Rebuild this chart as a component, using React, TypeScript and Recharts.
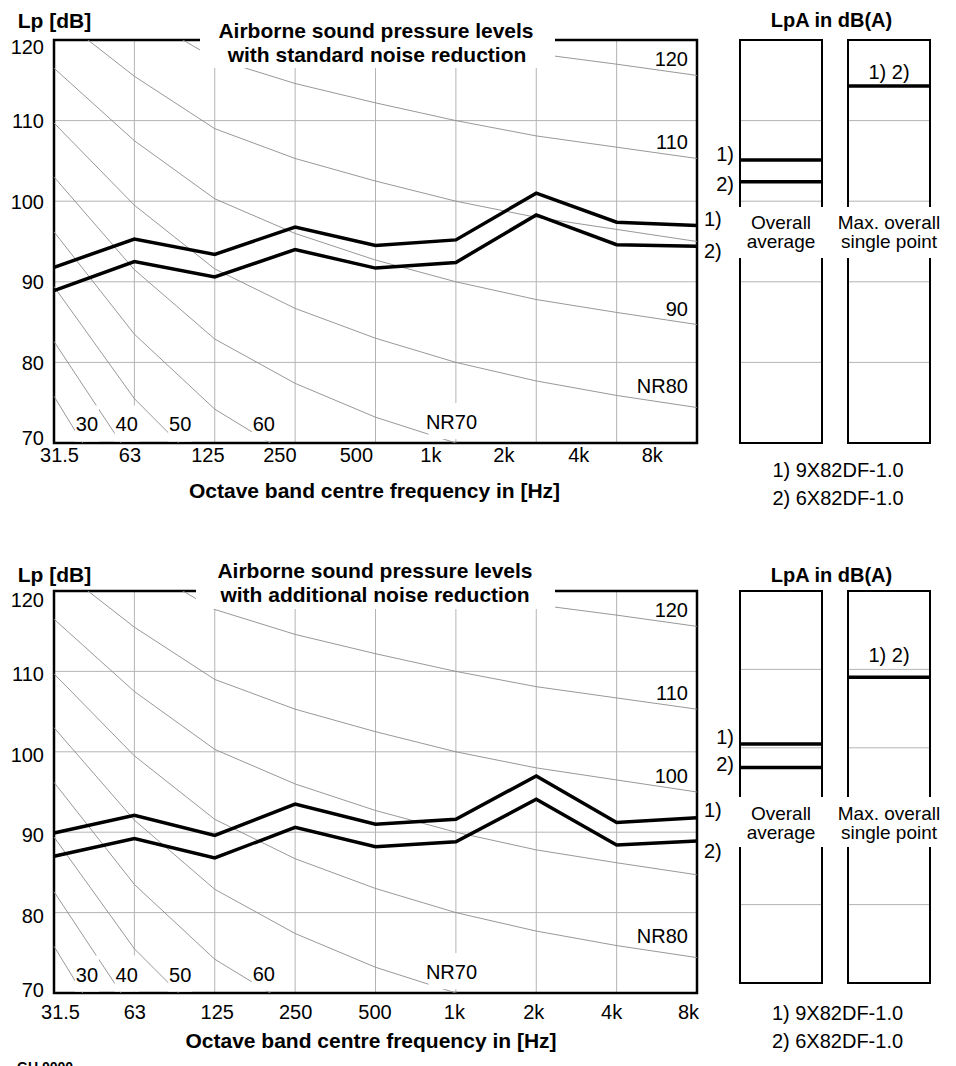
import React from 'react';
import {
  LineChart,
  Line,
  XAxis,
  YAxis,
  CartesianGrid,
  ReferenceArea,
  ReferenceDot,
} from 'recharts';

const bands = ['31.5', '63', '125', '250', '500', '1k', '2k', '4k', '8k'];
const levelTicks = [70, 80, 90, 100, 110, 120];
const bandTicks = [0, 1, 2, 3, 4, 5, 6, 7, 8];

// noise rating curves, one value per octave band
const nr30 = [75.8, 59.5, 48.1, 40.0, 34.0, 30.0, 26.9, 24.7, 22.9];
const nr40 = [82.6, 67.5, 56.8, 49.6, 43.9, 40.0, 37.1, 34.9, 33.2];
const nr50 = [89.4, 75.5, 65.5, 58.8, 53.6, 50.0, 47.2, 45.2, 43.5];
const nr60 = [96.2, 83.5, 74.2, 68.1, 63.4, 60.0, 57.4, 55.4, 53.8];
const nr70 = [103.0, 91.5, 82.9, 77.4, 73.2, 70.0, 67.5, 65.7, 64.1];
const nr80 = [109.7, 99.5, 91.6, 86.7, 83.0, 80.0, 77.7, 75.9, 74.4];
const nr90 = [116.5, 107.5, 100.3, 96.0, 92.7, 90.0, 87.8, 86.2, 84.7];
const nr100 = [123.3, 115.5, 109.0, 105.3, 102.5, 100.0, 98.0, 96.5, 95.0];
const nr110 = [130.1, 123.5, 117.7, 114.6, 112.2, 110.0, 108.1, 106.7, 105.3];
const nr120 = [136.9, 131.5, 126.4, 123.9, 122.0, 120.0, 118.3, 117.0, 115.6];

const nrKeys = ['nr30', 'nr40', 'nr50', 'nr60', 'nr70', 'nr80', 'nr90', 'nr100', 'nr110', 'nr120'];
const nrTables = [nr30, nr40, nr50, nr60, nr70, nr80, nr90, nr100, nr110, nr120];
const nrEndText: Record<string, string> = { nr80: 'NR80', nr90: '90', nr100: '100', nr110: '110', nr120: '120' };
const footText = ['30', '40', '50', '60', 'NR70'];

// measured levels, units 1) and 2)
const stdUnit1 = [91.8, 95.3, 93.4, 96.8, 94.5, 95.2, 101.0, 97.4, 97.0];
const stdUnit2 = [88.9, 92.5, 90.6, 94.0, 91.7, 92.4, 98.3, 94.6, 94.4];
const addUnit1 = [89.9, 92.1, 89.6, 93.5, 91.0, 91.6, 97.0, 91.2, 91.8];
const addUnit2 = [87.0, 89.2, 86.8, 90.6, 88.2, 88.8, 94.1, 88.4, 88.9];

// LpA in dB(A): overall average 1), 2) and max. overall single point (same for both)
const stdAverage = [105.1, 102.4];
const stdMax = [114.3];
const addAverage = [100.5, 97.5];
const addMax = [109.0];

const unitNames = ['9X82DF-1.0', '6X82DF-1.0'];

const FONT = "'Liberation Sans', Arial, Helvetica, sans-serif";
const GRID = '#b4b4b4';
const NR_GREY = '#8c8c8c';

// anchors (band index, dB) of the NR labels along the bottom edge
const footAt = [
  [0.41, 72.3],
  [0.905, 72.3],
  [1.57, 72.3],
  [2.61, 72.4],
  [4.945, 72.6],
];

const buildRows = (u1: number[], u2: number[]) =>
  bands.map((band, i) => {
    const row: any = { i, band, u1: u1[i], u2: u2[i] };
    nrKeys.forEach((k, n) => {
      row[k] = nrTables[n][i];
    });
    return row;
  });

const pos = (p: any) => {
  const vb = p.viewBox || {};
  return { x: vb.x ?? p.x, y: vb.y ?? p.y };
};

type OctaveProps = {
  rows: any[];
  top: number;
  plotH: number;
  xTickMargin: number;
  xShift: number[];
  yBase: number;
  seriesDy: number[];
  nrShown: string[];
};

const OctaveChart = ({ rows, top, plotH, xTickMargin, xShift, yBase, seriesDy, nrShown }: OctaveProps) => {
  const last = bands.length - 1;

  const XTick = (p: any) => {
    const i = Math.round(p.payload.value);
    return (
      <text x={p.x + xShift[i]} y={p.y} dy="0.71em" textAnchor="middle" fontSize={20} fill="#000">
        {bands[i]}
      </text>
    );
  };

  const YTick = (p: any) => {
    const v = p.payload.value;
    const dy = yBase + (v === 120 ? 6 : v === 70 ? -6 : 0);
    return (
      <text x={p.x} y={p.y + dy} dy="0.35em" textAnchor="end" fontSize={20} fill="#000">
        {v}
      </text>
    );
  };

  const seriesLabel = (text: string, dy: number) => (p: any) => {
    if (p.index !== last) return null;
    const { x, y } = pos(p);
    return (
      <text x={x + 7} y={y + dy} dy="0.35em" fontSize={20} fill="#000">
        {text}
      </text>
    );
  };

  const nrLabel = (text: string, dy: number) => (p: any) => {
    if (p.index !== last) return null;
    const { x, y } = pos(p);
    return (
      <text x={x - 9} y={y + dy} dy="0.35em" textAnchor="end" fontSize={20} fill="#000">
        {text}
      </text>
    );
  };

  const footLabel = (text: string) => (p: any) => {
    const { x, y } = pos(p);
    const w = text.length * 11 + 2;
    return (
      <g>
        <rect x={x - w / 2} y={y - 19} width={w} height={36} fill="#fff" />
        <text x={x} y={y} dy="0.35em" textAnchor="middle" fontSize={20} fill="#000">
          {text}
        </text>
      </g>
    );
  };

  return (
    <div style={{ position: 'absolute', left: 0, top: top - 40 }}>
      <LineChart width={740} height={40 + plotH + 40} data={rows} margin={{ top: 40, right: 43, bottom: 0, left: 0 }}>
        <XAxis
          type="number"
          dataKey="i"
          domain={[0, 8]}
          ticks={bandTicks}
          interval={0}
          height={40}
          axisLine={false}
          tickLine={false}
          tickSize={0}
          tickMargin={xTickMargin}
          tick={XTick}
        />
        <YAxis
          yAxisId="lvl"
          type="number"
          domain={[70, 120]}
          ticks={levelTicks}
          interval={0}
          width={54}
          axisLine={false}
          tickLine={false}
          tickSize={0}
          tickMargin={10}
          tick={YTick}
        />
        <YAxis yAxisId="nr" type="number" domain={[70, 120]} allowDataOverflow hide />
        <CartesianGrid yAxisId="lvl" stroke={GRID} strokeWidth={1} />
        {footText.map((t, n) => (
          <ReferenceDot
            key={t}
            yAxisId="lvl"
            x={footAt[n][0]}
            y={footAt[n][1]}
            r={0}
            fill="none"
            stroke="none"
            label={footLabel(t)}
          />
        ))}
        {nrKeys.map((k) => (
          <Line
            key={k}
            yAxisId="nr"
            dataKey={k}
            stroke={NR_GREY}
            strokeWidth={0.9}
            dot={false}
            activeDot={false}
            isAnimationActive={false}
            label={nrShown.includes(k) ? nrLabel(nrEndText[k], k === 'nr80' ? -22 : -16) : false}
          />
        ))}
        <ReferenceArea
          yAxisId="lvl"
          x1={0}
          x2={8}
          y1={70}
          y2={120}
          fill="none"
          stroke="#000"
          strokeWidth={2.5}
          ifOverflow="visible"
        />
        <Line
          yAxisId="lvl"
          dataKey="u1"
          stroke="#000"
          strokeWidth={3.5}
          dot={false}
          activeDot={false}
          isAnimationActive={false}
          label={seriesLabel('1)', seriesDy[0])}
        />
        <Line
          yAxisId="lvl"
          dataKey="u2"
          stroke="#000"
          strokeWidth={3.5}
          dot={false}
          activeDot={false}
          isAnimationActive={false}
          label={seriesLabel('2)', seriesDy[1])}
        />
      </LineChart>
    </div>
  );
};

type BoxMark = { text: string; dy: number; place: 'left' | 'top' };

const LpaBox = ({
  left,
  top,
  plotH,
  values,
  marks,
}: {
  left: number;
  top: number;
  plotH: number;
  values: number[];
  marks: BoxMark[];
}) => {
  const padL = 40;
  // a level mark runs across the whole box: start, middle and end of the box
  const data = [0, 0.5, 1].map((x) => {
    const r: any = { x };
    values.forEach((v, n) => {
      r[`m${n}`] = v;
    });
    return r;
  });

  const markLabel = (m: BoxMark) => (p: any) => {
    const { x, y } = pos(p);
    if (m.place === 'left' && p.index === 0) {
      return (
        <text x={x - 6} y={y + m.dy} dy="0.35em" textAnchor="end" fontSize={20} fill="#000">
          {m.text}
        </text>
      );
    }
    if (m.place === 'top' && p.index === 1) {
      return (
        <text x={x} y={y + m.dy} dy="0.35em" textAnchor="middle" fontSize={20} fill="#000">
          {m.text}
        </text>
      );
    }
    return null;
  };

  return (
    <div style={{ position: 'absolute', left: left - padL, top: top - 3 }}>
      <LineChart width={padL + 82 + 6} height={plotH + 6} data={data} margin={{ top: 3, right: 6, bottom: 3, left: padL }}>
        <XAxis type="number" dataKey="x" domain={[0, 1]} hide />
        <YAxis type="number" domain={[70, 120]} ticks={levelTicks} hide />
        <CartesianGrid vertical={false} stroke={GRID} />
        <ReferenceArea x1={0} x2={1} y1={70} y2={120} fill="none" stroke="#000" strokeWidth={2} ifOverflow="visible" />
        {marks.map((m, n) => (
          <Line
            key={m.text}
            dataKey={`m${n}`}
            stroke="#000"
            strokeWidth={3.5}
            dot={false}
            activeDot={false}
            isAnimationActive={false}
            label={markLabel(m)}
          />
        ))}
      </LineChart>
    </div>
  );
};

const Txt = ({ cx, cy, size = 20, bold = false, children }: any) => (
  <div
    style={{
      position: 'absolute',
      left: cx - 200,
      top: cy - size * 0.5,
      width: 400,
      height: size,
      lineHeight: `${size}px`,
      fontSize: size,
      fontWeight: bold ? 700 : 400,
      textAlign: 'center',
      whiteSpace: 'nowrap',
    }}
  >
    {children}
  </div>
);

const WhiteBox = ({ x, y, w, h }: any) => (
  <div style={{ position: 'absolute', left: x, top: y, width: w, height: h, background: '#fff' }} />
);

export default function App() {
  const stdRows = buildRows(stdUnit1, stdUnit2);
  const addRows = buildRows(addUnit1, addUnit2);

  return (
    <div
      style={{
        position: 'absolute',
        left: 0,
        top: 0,
        width: 956,
        height: 1066,
        overflow: 'hidden',
        background: '#fff',
        color: '#000',
        fontFamily: FONT,
      }}
    >
      {/* standard noise reduction */}
      <OctaveChart
        rows={stdRows}
        top={40}
        plotH={403}
        xTickMargin={4.5}
        xShift={[5.5, -4.4, -6.8, -15.2, -19.1, -25, -32.4, -37.8, -44.7]}
        yBase={0.5}
        seriesDy={[-6.5, 4.5]}
        nrShown={['nr80', 'nr90', 'nr110', 'nr120']}
      />
      <LpaBox
        left={740}
        top={40}
        plotH={403}
        values={stdAverage}
        marks={[
          { text: '1)', dy: -6, place: 'left' },
          { text: '2)', dy: 2, place: 'left' },
        ]}
      />
      <LpaBox left={848} top={40} plotH={403} values={stdMax} marks={[{ text: '1) 2)', dy: -14, place: 'top' }]} />
      <Txt cx={54.5} cy={20.5} size={21} bold>Lp [dB]</Txt>
      <WhiteBox x={200} y={0} w={355} h={68} />
      <Txt cx={376} cy={30.3} size={21} bold>Airborne sound pressure levels</Txt>
      <Txt cx={377} cy={54.2} size={21} bold>with standard noise reduction</Txt>
      <Txt cx={374.5} cy={490} size={21} bold>Octave band centre frequency in [Hz]</Txt>
      <Txt cx={831.5} cy={20} size={20} bold>LpA in dB(A)</Txt>
      <WhiteBox x={735} y={207} w={92} h={51} />
      <WhiteBox x={836} y={207} w={106} h={51} />
      <Txt cx={781} cy={222} size={19}>Overall</Txt>
      <Txt cx={781} cy={241} size={19}>average</Txt>
      <Txt cx={889} cy={222} size={19}>Max. overall</Txt>
      <Txt cx={889} cy={241} size={19}>single point</Txt>
      <Txt cx={838} cy={469.5}>1) {unitNames[0]}</Txt>
      <Txt cx={838} cy={497.5}>2) {unitNames[1]}</Txt>

      {/* additional noise reduction */}
      <OctaveChart
        rows={addRows}
        top={591}
        plotH={402}
        xTickMargin={11.5}
        xShift={[6.5, 0.5, 2.5, 0.5, -0.5, -1.5, -2.5, -5, -8.5]}
        yBase={3}
        seriesDy={[-8, 9.5]}
        nrShown={['nr80', 'nr100', 'nr110', 'nr120']}
      />
      <LpaBox
        left={740}
        top={591}
        plotH={392}
        values={addAverage}
        marks={[
          { text: '1)', dy: -7, place: 'left' },
          { text: '2)', dy: -3, place: 'left' },
        ]}
      />
      <LpaBox left={848} top={591} plotH={392} values={addMax} marks={[{ text: '1) 2)', dy: -22, place: 'top' }]} />
      <Txt cx={54.5} cy={574} size={21} bold>Lp [dB]</Txt>
      <WhiteBox x={196} y={548} w={359} h={61} />
      <Txt cx={375} cy={570.3} size={21} bold>Airborne sound pressure levels</Txt>
      <Txt cx={375} cy={594.5} size={21} bold>with additional noise reduction</Txt>
      <Txt cx={371} cy={1040.8} size={21} bold>Octave band centre frequency in [Hz]</Txt>
      <Txt cx={831.5} cy={574.5} size={20} bold>LpA in dB(A)</Txt>
      <WhiteBox x={735} y={797} w={92} h={50} />
      <WhiteBox x={836} y={797} w={106} h={50} />
      <Txt cx={781} cy={813} size={19}>Overall</Txt>
      <Txt cx={781} cy={832} size={19}>average</Txt>
      <Txt cx={889} cy={813} size={19}>Max. overall</Txt>
      <Txt cx={889} cy={832} size={19}>single point</Txt>
      <Txt cx={837.5} cy={1012.5}>1) {unitNames[0]}</Txt>
      <Txt cx={837.5} cy={1040.5}>2) {unitNames[1]}</Txt>

      <div style={{ position: 'absolute', left: 17, top: 1059, fontSize: 14, lineHeight: '16px', fontWeight: 700 }}>
        GU 0000
      </div>
    </div>
  );
}
